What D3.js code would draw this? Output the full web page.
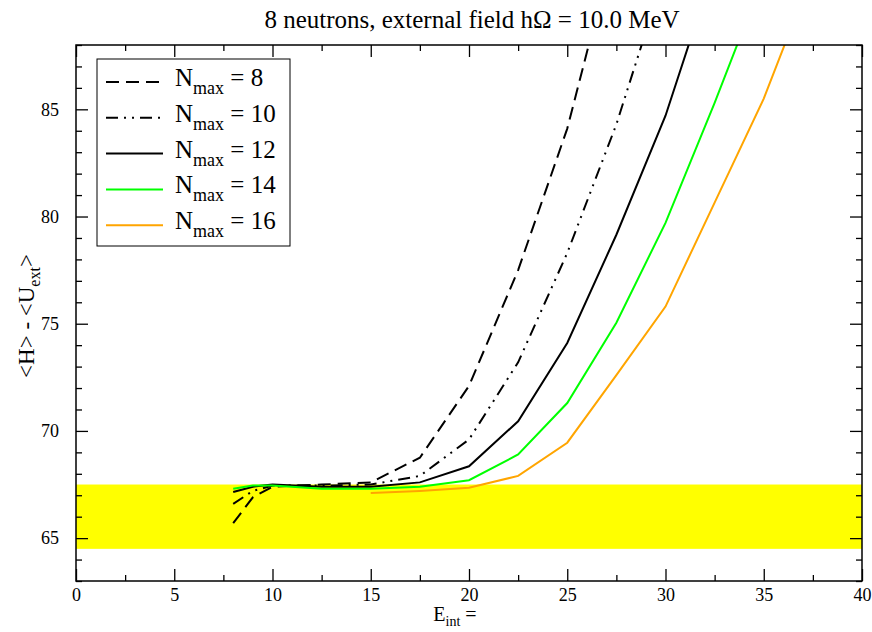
<!DOCTYPE html>
<html>
<head>
<meta charset="utf-8">
<script src="https://cdn.jsdelivr.net/npm/d3@7"></script>
<style>
  body { margin: 0; background: #fff; }
</style>
</head>
<body>
<svg id="chart" width="872" height="632"></svg>
<script>
// E_int values where each Nmax was computed
var eint = [8, 9, 10, 12.5, 15, 17.5, 20, 22.5, 25, 27.5, 30, 32.5, 35, 37.5];

// <H> - <U_ext> for each Nmax (null = no point)
var nmax8  = [65.7, 66.9, 67.4, 67.5, 67.6, 68.75, 72.1, 77.5, 84.1, 93.0, null, null, null, null];
var nmax10 = [66.6, 67.2, 67.45, 67.45, 67.5, 67.9, 69.6, 73.2, 78.3, 84.3, 91.5, null, null, null];
var nmax12 = [67.15, 67.4, 67.5, 67.4, 67.4, 67.6, 68.35, 70.45, 74.1, 79.15, 84.7, 91.7, null, null];
var nmax14 = [67.3, 67.45, 67.45, 67.3, 67.3, 67.4, 67.7, 68.9, 71.3, 75.05, 79.7, 85.3, 91.2, null];
var nmax16 = [null, null, null, null, 67.1, 67.2, 67.35, 67.9, 69.45, 72.6, 75.8, 80.65, 85.5, 91.4];

var seriesNames = ["8", "10", "12", "14", "16"];
var seriesVals = [nmax8, nmax10, nmax12, nmax14, nmax16];
var seriesColors = ["#000000", "#000000", "#000000", "#00ff00", "#ffa500"];
var seriesDash = ["13,7", "12,6,2,6,2,6", null, null, null];

var band = [64.5, 67.5];
var xDomain = [0, 40], yDomain = [63, 88];
var xMajor = d3.range(0, 40.1, 5), xMinor = d3.range(2.5, 40, 5);
var yMajor = d3.range(65, 86, 5), yMinor = d3.range(63, 88.1, 1).filter(function(v){ return v % 5 !== 0; });

var serif = "Liberation Serif";

var svg = d3.select("#chart"),
    margin = { top: 45, right: 10, bottom: 51, left: 76 },
    iwidth = 872 - margin.left - margin.right,
    iheight = 632 - margin.top - margin.bottom,
    g = svg.append("g").attr("transform", "translate(" + margin.left + "," + margin.top + ")");

var x = d3.scaleLinear().domain(xDomain).range([0, iwidth]);
var y = d3.scaleLinear().domain(yDomain).range([iheight, 0]);

svg.append("defs").append("clipPath").attr("id", "clip")
  .append("rect").attr("width", iwidth).attr("height", iheight);

// yellow band
g.append("rect")
  .attr("x", 0).attr("width", iwidth)
  .attr("y", y(band[1])).attr("height", y(band[0]) - y(band[1]))
  .attr("fill", "#ffff00");

// curves
var line = d3.line()
  .defined(function(d){ return d[1] != null; })
  .x(function(d){ return x(d[0]); })
  .y(function(d){ return y(d[1]); });

var curves = g.append("g").attr("clip-path", "url(#clip)");
seriesVals.forEach(function(vals, i){
  curves.append("path")
    .datum(eint.map(function(e, j){ return [e, vals[j]]; }))
    .attr("fill", "none")
    .attr("stroke", seriesColors[i])
    .attr("stroke-width", 2)
    .attr("stroke-dasharray", seriesDash[i])
    .attr("d", line);
});

// axes, ticks pointing inward on all four sides
function styleAxis(sel, fs) {
  sel.attr("font-family", serif).attr("font-size", fs);
  sel.select(".domain").remove();
  sel.selectAll("line").attr("stroke", "#000").attr("stroke-width", 1.3);
  sel.selectAll("text").attr("fill", "#000");
}
var bottom = g.append("g").attr("transform", "translate(0," + iheight + ")")
  .call(d3.axisBottom(x).tickValues(xMajor).tickSize(-12).tickPadding(7).tickFormat(d3.format("d")));
styleAxis(bottom, 18);
g.append("g").attr("transform", "translate(0," + iheight + ")")
  .call(d3.axisBottom(x).tickValues(xMinor).tickSize(-6).tickFormat("")).call(styleAxis, 1);
g.append("g").call(d3.axisTop(x).tickValues(xMajor).tickSize(-12).tickFormat("")).call(styleAxis, 1);
g.append("g").call(d3.axisTop(x).tickValues(xMinor).tickSize(-6).tickFormat("")).call(styleAxis, 1);

var left = g.append("g")
  .call(d3.axisLeft(y).tickValues(yMajor).tickSize(-12).tickPadding(17).tickFormat(d3.format("d")));
styleAxis(left, 18);
g.append("g").call(d3.axisLeft(y).tickValues(yMinor).tickSize(-6).tickFormat("")).call(styleAxis, 1);
g.append("g").attr("transform", "translate(" + iwidth + ",0)")
  .call(d3.axisRight(y).tickValues(yMajor).tickSize(-12).tickFormat("")).call(styleAxis, 1);
g.append("g").attr("transform", "translate(" + iwidth + ",0)")
  .call(d3.axisRight(y).tickValues(yMinor).tickSize(-6).tickFormat("")).call(styleAxis, 1);

// frame
g.append("rect").attr("width", iwidth).attr("height", iheight)
  .attr("fill", "none").attr("stroke", "#000").attr("stroke-width", 1.5);

// title
svg.append("text")
  .attr("x", margin.left + iwidth / 2 + 3).attr("y", 28)
  .attr("text-anchor", "middle").attr("font-family", serif).attr("font-size", 25)
  .text("8 neutrons, external field h\u03A9 = 10.0 MeV");

// axis titles
var xl = svg.append("text")
  .attr("x", margin.left + iwidth / 2 - 14).attr("y", 621)
  .attr("text-anchor", "middle").attr("font-family", serif).attr("font-size", 20);
xl.append("tspan").text("E");
xl.append("tspan").attr("dy", 5).attr("font-size", 14).text("int");
xl.append("tspan").attr("dy", -5).text(" =");

var yl = svg.append("text")
  .attr("transform", "translate(34," + (margin.top + iheight / 2 + 3) + ") rotate(-90)")
  .attr("text-anchor", "middle").attr("font-family", serif).attr("font-size", 23);
yl.append("tspan").text("<H> - <U");
yl.append("tspan").attr("dy", 6).attr("font-size", 16).text("ext");
yl.append("tspan").attr("dy", -6).text(">");

// legend
var lg = svg.append("g").attr("transform", "translate(97,59)");
lg.append("rect").attr("width", 193).attr("height", 187)
  .attr("fill", "#fff").attr("stroke", "#000").attr("stroke-width", 1);
seriesNames.forEach(function(n, i){
  var ly = 23 + i * 35.8;
  lg.append("line")
    .attr("x1", 9).attr("x2", 66).attr("y1", ly).attr("y2", ly)
    .attr("stroke", seriesColors[i]).attr("stroke-width", 2)
    .attr("stroke-dasharray", seriesDash[i]);
  var t = lg.append("text").attr("x", 78).attr("y", ly + 4)
    .attr("font-family", serif).attr("font-size", 25);
  t.append("tspan").text("N");
  t.append("tspan").attr("dy", 8).attr("font-size", 18).text("max");
  t.append("tspan").attr("dy", -8).text(" = " + n);
});
</script>
</body>
</html>
